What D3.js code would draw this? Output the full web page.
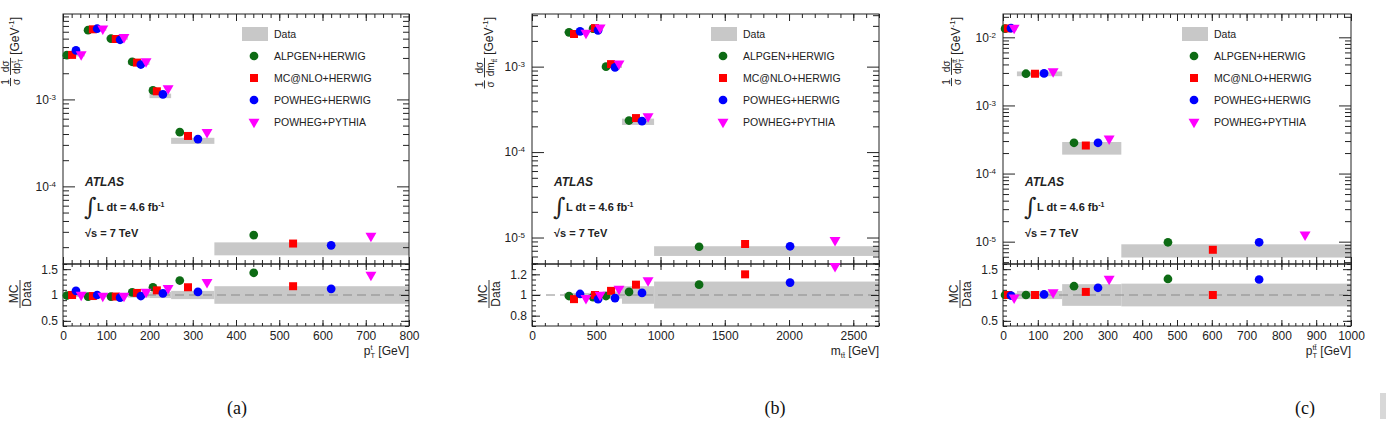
<!DOCTYPE html>
<html>
<head>
<meta charset="utf-8">
<script src="https://cdn.jsdelivr.net/npm/d3@7"></script>
<style>
  body { margin: 0; background: #fff; }
  svg { display: block; font-family: "Liberation Sans", Arial, sans-serif; }
</style>
</head>
<body>
<svg id="fig" width="1386" height="425"></svg>
<script>
/**
 * Data
 */
const models = ["ALPGEN+HERWIG", "MC@NLO+HERWIG", "POWHEG+HERWIG", "POWHEG+PYTHIA"];

// (a) top quark pT
const binsA  = [0, 50, 100, 150, 200, 250, 350, 800];
const dataA  = [3.25e-3, 6.4e-3, 5.05e-3, 2.62e-3, 1.1e-3, 3.35e-4, 1.94e-5];
const errA   = [0.04, 0.04, 0.04, 0.05, 0.06, 0.08, 0.17];
const posA = [
  [9, 58, 111, 160, 208, 270, 441],
  [21, 69, 122, 171, 217, 289, 532],
  [30, 79, 132, 180, 231, 312, 620],
  [42, 92, 141, 192, 243, 333, 712]];
const mcA = [
  [3.23e-3, 6.26e-3, 4.99e-3, 2.71e-3, 1.27e-3, 4.2e-4, 2.75e-5],
  [3.25e-3, 6.4e-3, 4.95e-3, 2.65e-3, 1.24e-3, 3.8e-4, 2.2e-5],
  [3.66e-3, 6.5e-3, 4.85e-3, 2.52e-3, 1.14e-3, 3.5e-4, 2.1e-5],
  [3.3e-3, 6.5e-3, 5.2e-3, 2.73e-3, 1.34e-3, 4.2e-4, 2.7e-5]];
const ratioA = [
  [0.99, 0.97, 0.97, 1.05, 1.15, 1.28, 1.43],
  [1.0, 0.98, 0.97, 1.04, 1.09, 1.15, 1.17],
  [1.08, 1.0, 0.95, 0.98, 1.03, 1.06, 1.12],
  [1.0, 0.98, 0.98, 1.06, 1.13, 1.25, 1.39]];
const xTicksA = [0, 100, 200, 300, 400, 500, 600, 700, 800];
const rTicksA = [0.5, 1, 1.5];

// (b) ttbar mass
const binsB  = [250, 450, 550, 700, 950, 2700];
const dataB  = [2.55e-3, 2.78e-3, 1.0e-3, 2.27e-4, 7.0e-6];
const errB   = [0.02, 0.025, 0.035, 0.085, 0.13];
const posB = [
  [288, 475, 576, 755, 1300],
  [327, 490, 615, 809, 1658],
  [374, 514, 646, 856, 2008],
  [420, 530, 677, 903, 2358]];
const mcB = [
  [2.52e-3, 2.78e-3, 1.0e-3, 2.34e-4, 7.8e-6],
  [2.41e-3, 2.82e-3, 1.07e-3, 2.5e-4, 8.4e-6],
  [2.59e-3, 2.66e-3, 0.98e-3, 2.3e-4, 7.9e-6],
  [2.48e-3, 2.86e-3, 1.08e-3, 2.62e-4, 9.3e-6]];
const ratioB = [
  [0.99, 0.98, 0.99, 1.03, 1.1],
  [0.96, 1.0, 1.04, 1.1, 1.2],
  [1.01, 0.96, 0.97, 1.02, 1.12],
  [0.97, 1.0, 1.06, 1.14, 1.28]];
const xTicksB = [0, 500, 1000, 1500, 2000, 2500];
const rTicksB = [0.8, 1, 1.2];

// (c) ttbar pT
const binsC  = [0, 40, 170, 340, 1000];
const dataC  = [1.35e-2, 2.92e-3, 2.4e-4, 7.5e-6];
const errC   = [0.04, 0.08, 0.21, 0.22];
const posC = [
  [6, 66, 204, 474],
  [14, 92, 238, 603],
  [23, 118, 273, 736],
  [32, 144, 305, 868]];
const mcC = [
  [1.34e-2, 2.92e-3, 2.83e-4, 9.8e-6],
  [1.35e-2, 2.92e-3, 2.58e-4, 7.6e-6],
  [1.36e-2, 2.95e-3, 2.83e-4, 9.8e-6],
  [1.37e-2, 3.16e-3, 3.24e-4, 1.27e-5]];
const ratioC = [
  [1.0, 1.0, 1.17, 1.31],
  [1.0, 1.0, 1.06, 1.0],
  [0.99, 1.01, 1.14, 1.3],
  [0.95, 1.05, 1.31, 1.7]];
const xTicksC = [0, 100, 200, 300, 400, 500, 600, 700, 800, 900, 1000];
const rTicksC = [0.5, 1, 1.5];

/**
 * Style / layout
 */
const colors = ["#0d6b14", "#ff0000", "#0000ff", "#ff00ff"];
const shapes = [d3.symbolCircle, d3.symbolSquare, d3.symbolCircle, d3.symbolTriangle];
const sizes  = [60, 64, 60, 52];
const bandColor = "#c8c8c8";
const ink = "#222";
const padTop = 14, padMid = 264, padBot = 326;

const TT = "t\u0304";
const panels = [
  { bins: binsA, data: dataA, err: errA, pos: posA, mc: mcA, ratio: ratioA,
    left: 63, right: 409, xMax: 800, xMinor: 20, yDom: [1.28e-5, 9.6e-3],
    rDom: [0.4, 1.6], rMinor: 0.1, xTicks: xTicksA, rTicks: rTicksA,
    titleX: 19, den: [{t: "dp", fs: 10}, {t: "T", fs: 6.5, dy: 2.5, hold: true}, {t: "t", fs: 6.5, dy: -4.5}],
    xTitle: [{t: "p", fs: 12}, {t: "T", fs: 7.5, dy: 3, hold: true}, {t: "t", fs: 7.5, dy: -5.5}, {t: " [GeV]", fs: 12}],
    caption: "(a)", capX: 237 },
  { bins: binsB, data: dataB, err: errB, pos: posB, mc: mcB, ratio: ratioB,
    left: 532, right: 879, xMax: 2700, xMinor: 100, yDom: [4.9e-6, 4.13e-3],
    rDom: [0.7, 1.3], rMinor: 0.05, xTicks: xTicksB, rTicks: rTicksB,
    titleX: 493, den: [{t: "dm", fs: 10}, {t: "t" + TT, fs: 6.5, dy: 2.5}],
    xTitle: [{t: "m", fs: 12}, {t: "t" + TT, fs: 7.5, dy: 3}, {t: " [GeV]", fs: 12}],
    caption: "(b)", capX: 775 },
  { bins: binsC, data: dataC, err: errC, pos: posC, mc: mcC, ratio: ratioC,
    left: 1003, right: 1351, xMax: 1000, xMinor: 20, yDom: [4.7e-6, 2.2e-2],
    rDom: [0.4, 1.6], rMinor: 0.1, xTicks: xTicksC, rTicks: rTicksC,
    titleX: 960, den: [{t: "dp", fs: 10}, {t: "T", fs: 6.5, dy: 2.5, hold: true}, {t: "t" + TT, fs: 6.5, dy: -4.5}],
    xTitle: [{t: "p", fs: 12}, {t: "T", fs: 7.5, dy: 3, hold: true}, {t: "t" + TT, fs: 7.5, dy: -5.5}, {t: " [GeV]", fs: 12}],
    caption: "(c)", capX: 1305 }
];

const svg = d3.select("#fig");

/**
 * Text helpers
 */
function drawSeq(g, items, x0, y0) {
  let x = x0, held = 0;
  items.forEach(it => {
    const el = g.append("text")
      .attr("x", x).attr("y", y0 + (it.dy || 0))
      .attr("font-size", it.fs).attr("fill", ink)
      .style("white-space", "pre")
      .text(it.t);
    const w = el.node().getComputedTextLength();
    if (it.hold) held = Math.max(held, w);
    else { x += Math.max(w, held); held = 0; }
  });
  return x - x0;
}

function drawFrac(g, num, den, x0, numY, barY, denY) {
  const gn = g.append("g"), gd = g.append("g");
  const wn = drawSeq(gn, num, 0, numY);
  const wd = drawSeq(gd, den, 0, denY);
  const w = Math.max(wn, wd) + 2;
  gn.attr("transform", `translate(${x0 + (w - wn) / 2},0)`);
  gd.attr("transform", `translate(${x0 + (w - wd) / 2},0)`);
  g.append("line").attr("x1", x0).attr("x2", x0 + w)
    .attr("y1", barY).attr("y2", barY)
    .attr("stroke", ink).attr("stroke-width", 0.9);
  return w;
}

function clean(sel) { sel.select(".domain").remove(); sel.attr("color", ink); }

/**
 * Panels
 */
panels.forEach(p => {
  const x = d3.scaleLinear().domain([0, p.xMax]).range([p.left, p.right]);
  const y = d3.scaleLog().domain(p.yDom).range([padMid, padTop]);
  const r = d3.scaleLinear().domain(p.rDom).range([padBot, padMid]);
  const g = svg.append("g");

  // data uncertainty bands
  g.append("g").selectAll("rect").data(p.data).join("rect")
    .attr("x", (d, i) => x(p.bins[i]))
    .attr("width", (d, i) => x(p.bins[i + 1]) - x(p.bins[i]))
    .attr("y", (d, i) => y(d * (1 + p.err[i])))
    .attr("height", (d, i) => y(d * (1 - p.err[i])) - y(d * (1 + p.err[i])))
    .attr("fill", bandColor);
  g.append("g").selectAll("rect").data(p.err).join("rect")
    .attr("x", (d, i) => x(p.bins[i]))
    .attr("width", (d, i) => x(p.bins[i + 1]) - x(p.bins[i]))
    .attr("y", d => r(1 + d))
    .attr("height", d => r(1 - d) - r(1 + d))
    .attr("fill", bandColor);

  // unity line
  g.append("line").attr("x1", p.left).attr("x2", p.right)
    .attr("y1", r(1)).attr("y2", r(1))
    .attr("stroke", "#8a8a8a").attr("stroke-dasharray", "9,5");

  // frames
  g.append("rect").attr("x", p.left).attr("y", padTop)
    .attr("width", p.right - p.left).attr("height", padMid - padTop)
    .attr("fill", "none").attr("stroke", ink);
  g.append("rect").attr("x", p.left).attr("y", padMid)
    .attr("width", p.right - p.left).attr("height", padBot - padMid)
    .attr("fill", "none").attr("stroke", ink);

  // x axes
  const xMinors = d3.range(0, p.xMax + 1e-9, p.xMinor);
  [[d3.axisTop, padTop, 7, 4], [d3.axisBottom, padMid, 7, 4],
   [d3.axisTop, padMid, 6, 3], [d3.axisBottom, padBot, 6, 3]].forEach(([ax, yy, big, small]) => {
    g.append("g").attr("transform", `translate(0,${yy})`)
      .call(ax(x).tickValues(xMinors).tickSize(-small).tickFormat(""))
      .call(clean);
    g.append("g").attr("transform", `translate(0,${yy})`)
      .call(ax(x).tickValues(p.xTicks).tickSize(-big).tickFormat(""))
      .call(clean);
  });
  g.append("g").attr("transform", `translate(0,${padBot})`)
    .call(d3.axisBottom(x).tickValues(p.xTicks).tickSize(0).tickPadding(5).tickFormat(d3.format("d")))
    .call(clean)
    .call(s => s.selectAll("text").attr("font-size", 12).attr("font-family", null).attr("fill", ink));

  // log y axis (upper)
  const allLog = y.ticks();
  const majLog = allLog.filter(v => Math.abs(Math.log10(v) - Math.round(Math.log10(v))) < 1e-6);
  const minLog = allLog.filter(v => !majLog.includes(v));
  [[d3.axisLeft, p.left], [d3.axisRight, p.right]].forEach(([ax, xx]) => {
    g.append("g").attr("transform", `translate(${xx},0)`)
      .call(ax(y).tickValues(minLog).tickSize(-6).tickFormat(""))
      .call(clean);
    g.append("g").attr("transform", `translate(${xx},0)`)
      .call(ax(y).tickValues(majLog).tickSize(-12).tickFormat(""))
      .call(clean);
  });
  g.append("g").attr("transform", `translate(${p.left},0)`)
    .call(d3.axisLeft(y).tickValues(majLog).tickSize(0).tickPadding(7).tickFormat(() => ""))
    .call(clean)
    .call(s => s.selectAll(".tick text").each(function (d) {
      const t = d3.select(this).attr("font-size", 12).attr("font-family", null).attr("fill", ink);
      t.append("tspan").text("10");
      t.append("tspan").attr("dy", "-0.5em").attr("font-size", 8).text(String(Math.round(Math.log10(d))));
    }));

  // ratio y axis
  const rMinors = d3.range(p.rDom[0], p.rDom[1] + 1e-9, p.rMinor);
  [[d3.axisLeft, p.left], [d3.axisRight, p.right]].forEach(([ax, xx]) => {
    g.append("g").attr("transform", `translate(${xx},0)`)
      .call(ax(r).tickValues(rMinors).tickSize(-4).tickFormat(""))
      .call(clean);
    g.append("g").attr("transform", `translate(${xx},0)`)
      .call(ax(r).tickValues(p.rTicks).tickSize(-8).tickFormat(""))
      .call(clean);
  });
  g.append("g").attr("transform", `translate(${p.left},0)`)
    .call(d3.axisLeft(r).tickValues(p.rTicks).tickSize(0).tickPadding(5).tickFormat(d => String(d)))
    .call(clean)
    .call(s => s.selectAll("text").attr("font-size", 12).attr("font-family", null).attr("fill", ink));

  // MC markers
  models.forEach((m, k) => {
    const pts = p.mc[k].map((v, i) => ({ x: p.pos[k][i], y: v }));
    const rpts = p.ratio[k].map((v, i) => ({ x: p.pos[k][i], y: v }))
      .filter(d => d.y >= p.rDom[0] && d.y <= p.rDom[1]);
    const sym = d3.symbol().type(shapes[k]).size(sizes[k]);
    const rot = shapes[k] === d3.symbolTriangle ? " rotate(180)" : "";
    g.append("g").selectAll("path").data(pts).join("path")
      .attr("d", sym)
      .attr("transform", d => `translate(${x(d.x)},${y(d.y)})${rot}`)
      .attr("fill", colors[k]);
    g.append("g").selectAll("path").data(rpts).join("path")
      .attr("d", sym)
      .attr("transform", d => `translate(${x(d.x)},${r(d.y)})${rot}`)
      .attr("fill", colors[k]);
  });

  // legend
  const lg = g.append("g").attr("transform", `translate(${p.left + 179},0)`);
  lg.append("rect").attr("x", 0).attr("y", 27).attr("width", 26).attr("height", 14).attr("fill", bandColor);
  lg.append("text").attr("x", 32).attr("y", 38).attr("font-size", 10.5).attr("fill", ink).text("Data");
  models.forEach((m, k) => {
    const yy = 56 + 22 * k;
    const rot = shapes[k] === d3.symbolTriangle ? " rotate(180)" : "";
    lg.append("path").attr("d", d3.symbol().type(shapes[k]).size(sizes[k]))
      .attr("transform", `translate(12,${yy})${rot}`).attr("fill", colors[k]);
    lg.append("text").attr("x", 32).attr("y", yy + 4).attr("font-size", 10.5).attr("fill", ink).text(m);
  });

  // ATLAS label
  const al = g.append("g").attr("transform", `translate(${p.left + 22},0)`);
  al.append("text").attr("x", 0).attr("y", 186).attr("font-size", 12)
    .attr("font-weight", "bold").attr("font-style", "italic").attr("fill", ink).text("ATLAS");
  al.append("text").attr("x", -1).attr("y", 215).attr("font-size", 24)
    .attr("font-family", "DejaVu Serif").attr("fill", ink).text("\u222B");
  const lt = al.append("text").attr("x", 12).attr("y", 211).attr("font-size", 11)
    .attr("font-weight", "bold").attr("fill", ink);
  lt.append("tspan").text("L dt = 4.6 fb");
  lt.append("tspan").attr("dy", -4).attr("font-size", 7).text("-1");
  al.append("text").attr("x", 0).attr("y", 237).attr("font-size", 11)
    .attr("font-weight", "bold").attr("fill", ink).text("\u221As = 7 TeV");

  // upper y title (rotated)
  const yt = svg.append("g");
  let lx = 0;
  lx += drawFrac(yt, [{t: "1", fs: 10}], [{t: "\u03C3", fs: 10}], lx, -10, -8.5, 1);
  lx += 3;
  lx += drawFrac(yt, [{t: "d\u03C3", fs: 10}], p.den, lx, -10, -8.5, 1);
  lx += 3;
  lx += drawSeq(yt, [{t: "[GeV", fs: 12}, {t: "-1", fs: 8, dy: -5.5}, {t: "]", fs: 12}], lx, 0);
  yt.attr("transform", `translate(${p.titleX},${17 + lx}) rotate(-90)`);

  // ratio y title
  const rt = svg.append("g").attr("transform", `translate(${p.left - 43},294) rotate(-90)`);
  rt.append("text").attr("x", 0).attr("y", -2).attr("text-anchor", "middle")
    .attr("font-size", 12).attr("fill", ink).text("MC");
  rt.append("text").attr("x", 0).attr("y", 11).attr("text-anchor", "middle")
    .attr("font-size", 12).attr("fill", ink).text("Data");
  rt.append("line").attr("x1", -14).attr("x2", 14).attr("y1", 0).attr("y2", 0)
    .attr("stroke", ink).attr("stroke-width", 0.9);

  // x title, right aligned
  const xt = svg.append("g");
  const wx = drawSeq(xt, p.xTitle, 0, 0);
  xt.attr("transform", `translate(${p.right - wx},355)`);

  // caption
  svg.append("text").attr("x", p.capX).attr("y", 414).attr("text-anchor", "middle")
    .attr("font-family", "Liberation Serif").attr("font-size", 18).attr("fill", "#111")
    .text(p.caption);
});

// cropped mark at the right edge of the source image
svg.append("rect").attr("x", 1380).attr("y", 393).attr("width", 6).attr("height", 26).attr("fill", "#d8d8d8");
</script>
</body>
</html>
